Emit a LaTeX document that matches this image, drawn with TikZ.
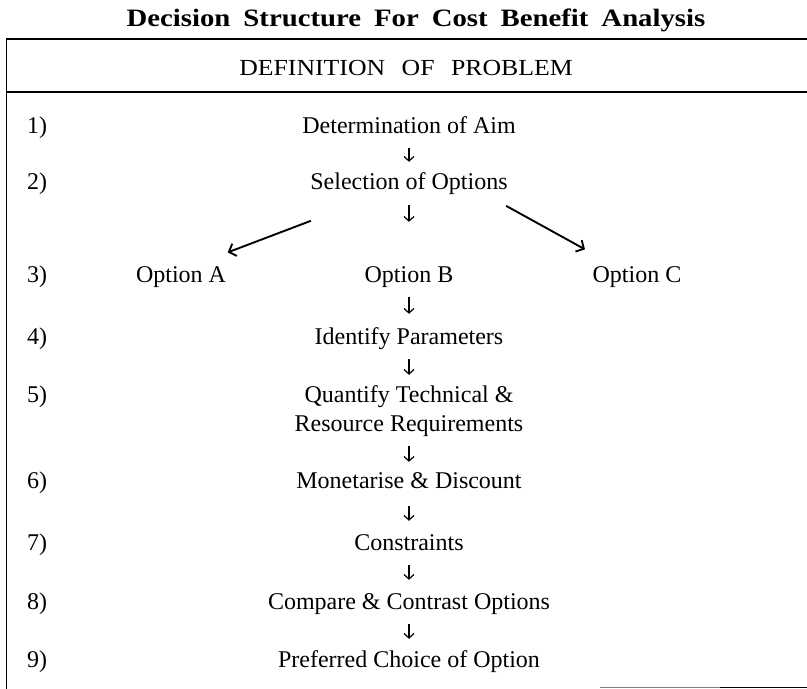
\documentclass[tikz,border=0pt]{standalone}
\usepackage{fontspec}
\setmainfont{Liberation Serif}
\newfontfamily\titlefont[FakeStretch=1.15]{Liberation Serif}
\newfontfamily\headfont[FakeStretch=1.12]{Liberation Serif}
\usetikzlibrary{arrows.meta}
\newcommand\tgap{\hspace{13pt}}
\begin{document}
\begin{tikzpicture}[x=1pt,y=-1pt,
  frame/.style={line width=1.8pt},
  row/.style={anchor=base, inner sep=0pt, text height=17pt, text depth=5pt,
              font=\fontsize{24}{28}\selectfont},
  num/.style={anchor=base west, inner sep=0pt, font=\fontsize{24}{28}\selectfont},
  down/.style={line width=1.2pt, -{Straight Barb[length=4.5pt,width=10pt]}},
  branch/.style={line width=1.9pt, -{Straight Barb[length=6pt,width=13pt]}},
]
\useasboundingbox (0,0) rectangle (807,689);

% title above the frame
\node[anchor=base, inner sep=0pt, font=\titlefont\fontsize{25}{29}\selectfont\bfseries]
  (title) at (416,26) {Decision\tgap Structure\tgap For\tgap Cost\tgap Benefit\tgap Analysis};

% open frame: top rule, header rule, left side, short bottom rule
\draw[frame] (6.5,39) -- (807,39);
\draw[frame] (6.5,92) -- (807,92);
\draw[frame] (6.5,38.1) -- (6.5,689);
\draw[gray, line width=1.2pt] (600,687.5) -- (720,687.5);
\draw[line width=1.6pt] (720,687.5) -- (807,687.5);

\node[anchor=base, inner sep=0pt, font=\headfont\fontsize{23}{27}\selectfont]
  (head) at (406,75) {DEFINITION\hspace{10pt} OF\hspace{10pt} PROBLEM};

% step numbers
\node[num] (n1) at (27,133) {1)};
\node[num] (n2) at (27,189) {2)};
\node[num] (n3) at (27,282) {3)};
\node[num] (n4) at (27,344) {4)};
\node[num] (n5) at (27,402) {5)};
\node[num] (n6) at (27,488) {6)};
\node[num] (n7) at (27,550) {7)};
\node[num] (n8) at (27,609) {8)};
\node[num] (n9) at (27,667) {9)};

% steps
\node[row] (aim)   at (409,133) {Determination of Aim};
\node[row] (sel)   at (409,189) {Selection of Options};
\node[row] (optA)  at (181,282) {Option A};
\node[row] (optB)  at (409,282) {Option B};
\node[row] (optC)  at (637,282) {Option C};
\node[row] (ident) at (409,344) {Identify Parameters};
\node[row] (quant) at (409,402) {Quantify Technical \&};
\node[row] (resrc) at (409,431) {Resource Requirements};
\node[row] (mon)   at (409,488) {Monetarise \& Discount};
\node[row] (cons)  at (409,550) {Constraints};
\node[row] (comp)  at (409,609) {Compare \& Contrast Options};
\node[row] (pref)  at (409,667) {Preferred Choice of Option};

% flow arrows
\draw[down, shorten <=10pt, shorten >=10pt] (aim) -- (sel);
\draw[down, shorten <=11pt, shorten >=43pt] (sel) -- (optB);
\draw[down, shorten <=10pt, shorten >=13pt] (optB) -- (ident);
\draw[down, shorten <=10pt, shorten >=10pt] (ident) -- (quant);
\draw[down, shorten <=10pt, shorten >=9pt]  (resrc) -- (mon);
\draw[down, shorten <=13pt, shorten >=12pt] (mon) -- (cons);
\draw[down, shorten <=10pt, shorten >=12pt] (cons) -- (comp);
\draw[down, shorten <=10pt, shorten >=11pt] (comp) -- (pref);

% branches to the side options
\draw[branch, shorten <=75pt, shorten >=35pt] ([xshift=-28pt]sel.south) -- ([xshift=14pt]optA.north);
\draw[branch, shorten <=24pt, shorten >=32pt] ([xshift=76pt]sel.south) -- ([xshift=-24pt]optC.north);
\end{tikzpicture}
\end{document}
